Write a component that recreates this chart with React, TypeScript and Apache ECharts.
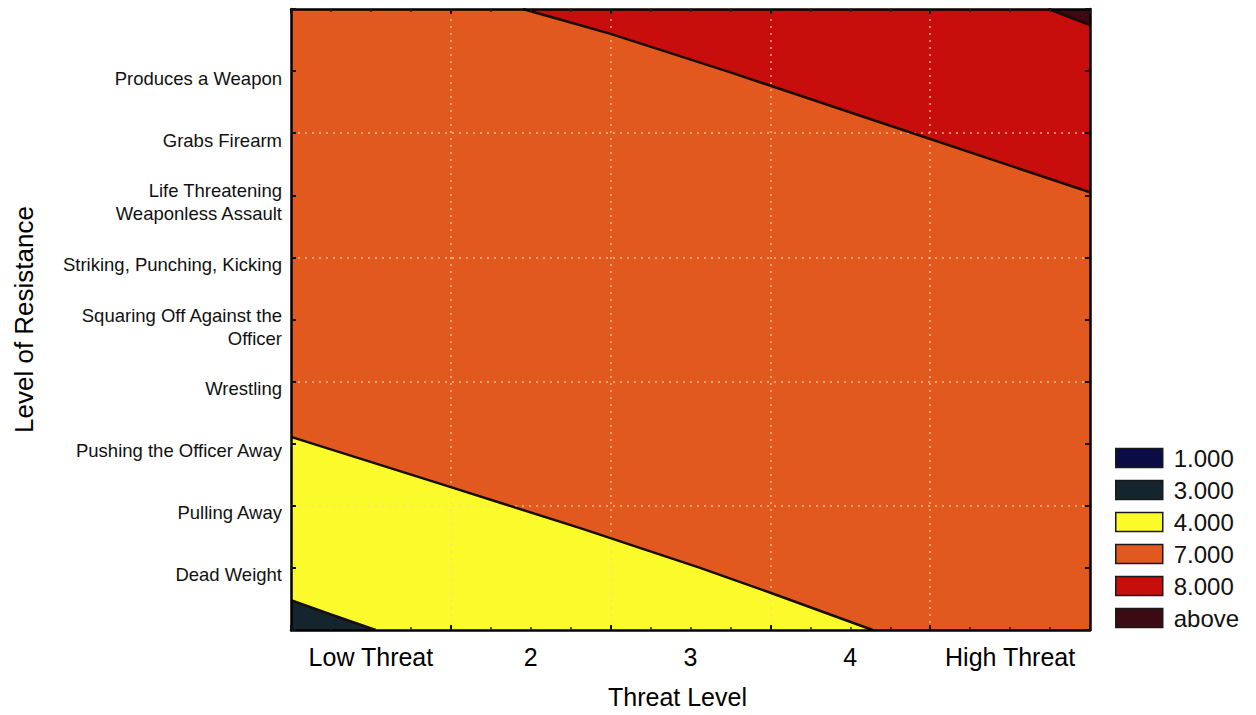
import React, { useEffect, useRef } from "react";
import * as echarts from "echarts";

// ---- data ----
const xCategories = ["Low Threat", "2", "3", "4", "High Threat"];
const yTickLabels = [
  "",
  "Dead Weight",
  "Pulling Away",
  "Pushing the Officer Away",
  "Wrestling",
  "Squaring Off Against the\nOfficer",
  "Striking, Punching, Kicking",
  "Life Threatening\nWeaponless Assault",
  "Grabs Firearm",
  "Produces a Weapon",
  "",
];
const legendLevels = ["1.000", "3.000", "4.000", "7.000", "8.000", "above"];
const levelColors = ["#0b0b45", "#14252e", "#fbfb2c", "#e2591f", "#c80d0d", "#3b0a12"];

const xRange = [0, 5];
const yRange = [0, 10];
// contour boundaries in data coordinates (threat level x, resistance y)
const slateBoundary = [[0, 0.48], [0.25, 0.25], [0.53, 0]];
const yellowBoundary = [[0, 3.11], [1, 2.3], [1.81, 1.64], [2.56, 1.0], [3, 0.6], [3.64, 0]];
const redBoundary = [[1.45, 10], [1.7, 9.82], [2, 9.6], [2.75, 8.98], [3.68, 8.18], [5, 7.05]];
const aboveBoundary = [[4.74, 10], [5, 9.74]];
const gridX = [1, 2, 3, 4];
const gridY = [2, 4, 6, 8];

const FONT = "'Liberation Sans', Arial, sans-serif";

export default function App() {
  const ref = useRef<HTMLDivElement>(null);
  useEffect(() => {
    document.body.style.margin = "0";
    const chart = echarts.init(ref.current!, null, { renderer: "svg" });

    const polygons: Record<string, number[][]> = {
      "1.000": [],
      "7.000": [[xRange[0], yRange[0]], [xRange[1], yRange[0]], [xRange[1], yRange[1]], [xRange[0], yRange[1]]],
      "4.000": [[xRange[0], yRange[0]], ...yellowBoundary],
      "3.000": [[xRange[0], yRange[0]], ...slateBoundary],
      "8.000": [...redBoundary, [xRange[1], yRange[1]]],
      above: [...aboveBoundary, [xRange[1], yRange[1]]],
    };
    const drawOrder = ["1.000", "7.000", "4.000", "3.000", "8.000", "above"];

    const areaSeries = drawOrder.map((name) => {
      const color = levelColors[legendLevels.indexOf(name)];
      const poly = polygons[name];
      return {
        name,
        type: "custom",
        coordinateSystem: "cartesian2d",
        xAxisIndex: 0,
        yAxisIndex: 0,
        clip: true,
        z: 2,
        itemStyle: { color },
        data: poly.length ? [[poly[0][0], poly[0][1]]] : [],
        renderItem: (_p: any, api: any) => ({
          type: "polygon",
          shape: { points: poly.map((pt) => api.coord(pt)) },
          style: { fill: color, stroke: null },
        }),
      };
    });

    const lineSeries = [slateBoundary, yellowBoundary, redBoundary, aboveBoundary].map((b, i) => ({
      name: "contour" + i,
      type: "line",
      xAxisIndex: 0,
      yAxisIndex: 0,
      data: b,
      showSymbol: false,
      symbol: "none",
      z: 5,
      silent: true,
      lineStyle: { color: "#1a0c08", width: 2.5 },
    }));

    const gridSeries = {
      name: "grid",
      type: "line",
      xAxisIndex: 0,
      yAxisIndex: 0,
      data: [],
      z: 4,
      silent: true,
      markLine: {
        silent: true,
        symbol: ["none", "none"],
        label: { show: false },
        lineStyle: { color: "rgba(255,214,160,0.8)", type: [2, 5], width: 1.5 },
        data: [...gridX.map((x) => ({ xAxis: x })), ...gridY.map((y) => ({ yAxis: y }))],
      },
    };

    const frameAxis = {
      axisLine: { show: true, onZero: false, lineStyle: { color: "#000", width: 2.5 } },
      axisTick: { show: true, inside: true, length: 5, lineStyle: { color: "#111", width: 2 } },
      splitLine: { show: false },
      z: 10,
    };

    const yLabelFormatter = (v: number) => {
      const s = yTickLabels[Math.round(v)] || "";
      if (!s) return "";
      return s.split("\n").map((ln) => `{a|${ln}}`).join("\n");
    };

    chart.setOption({
      animation: false,
      textStyle: { fontFamily: FONT },
      grid: { left: 291, right: 166, top: 9, bottom: 85, containLabel: false, outerBoundsMode: "none" },
      xAxis: [
        {
          type: "value", min: xRange[0], max: xRange[1], interval: 1, position: "bottom",
          ...frameAxis,
          minorTick: { show: true, splitNumber: 4, length: 3, lineStyle: { color: "#222", width: 1.5 } },
          axisLabel: { show: false },
        },
        {
          type: "value", min: xRange[0], max: xRange[1], interval: 1, position: "top",
          ...frameAxis,
          minorTick: { show: true, splitNumber: 4, length: 3, lineStyle: { color: "#222", width: 1.5 } },
          axisLabel: { show: false },
        },
        {
          type: "category", data: xCategories, position: "bottom", boundaryGap: true,
          axisLine: { show: false }, axisTick: { show: false }, splitLine: { show: false },
          axisLabel: { fontSize: 25, color: "#000", margin: 14, interval: 0, hideOverlap: false, fontFamily: FONT },
          name: "{t|Threat Level}", nameLocation: "middle", nameGap: 54,
          nameTextStyle: {
            fontSize: 25, color: "#000", fontFamily: FONT,
            rich: { t: { fontSize: 25, color: "#000", fontFamily: FONT, padding: [0, 26, 0, 0] } },
          },
        },
      ],
      yAxis: [
        {
          type: "value", min: yRange[0], max: yRange[1], interval: 1, position: "left",
          ...frameAxis,
          axisLabel: {
            formatter: yLabelFormatter,
            fontSize: 18.5, color: "#111", margin: 9, align: "right", fontFamily: FONT, hideOverlap: false,
            rich: {
              a: { fontSize: 18.5, color: "#111", fontFamily: FONT, lineHeight: 23, padding: [14, 0, 0, 0], align: "right" },
            },
          },
          name: "Level of Resistance", nameLocation: "middle", nameGap: 254, nameRotate: 90,
          nameTextStyle: { fontSize: 26, color: "#000", fontFamily: FONT },
        },
        {
          type: "value", min: yRange[0], max: yRange[1], interval: 1, position: "right",
          ...frameAxis,
          axisLabel: { show: false },
        },
      ],
      legend: {
        data: legendLevels,
        orient: "vertical",
        left: 1115,
        top: 446,
        padding: 0,
        itemWidth: 47,
        itemHeight: 19,
        itemGap: 8,
        icon: "rect",
        itemStyle: { borderColor: "#1a1a1a", borderWidth: 1.5 },
        formatter: "{t|{name}}",
        textStyle: {
          fontSize: 24, color: "#111", fontFamily: FONT,
          rich: { t: { fontSize: 24, color: "#111", fontFamily: FONT, padding: [0, 0, 0, 6] } },
        },
        selectedMode: false,
      },
      series: [...areaSeries, gridSeries, ...lineSeries],
    });
    return () => chart.dispose();
  }, []);
  return <div ref={ref} style={{ width: 1256, height: 715 }} />;
}
